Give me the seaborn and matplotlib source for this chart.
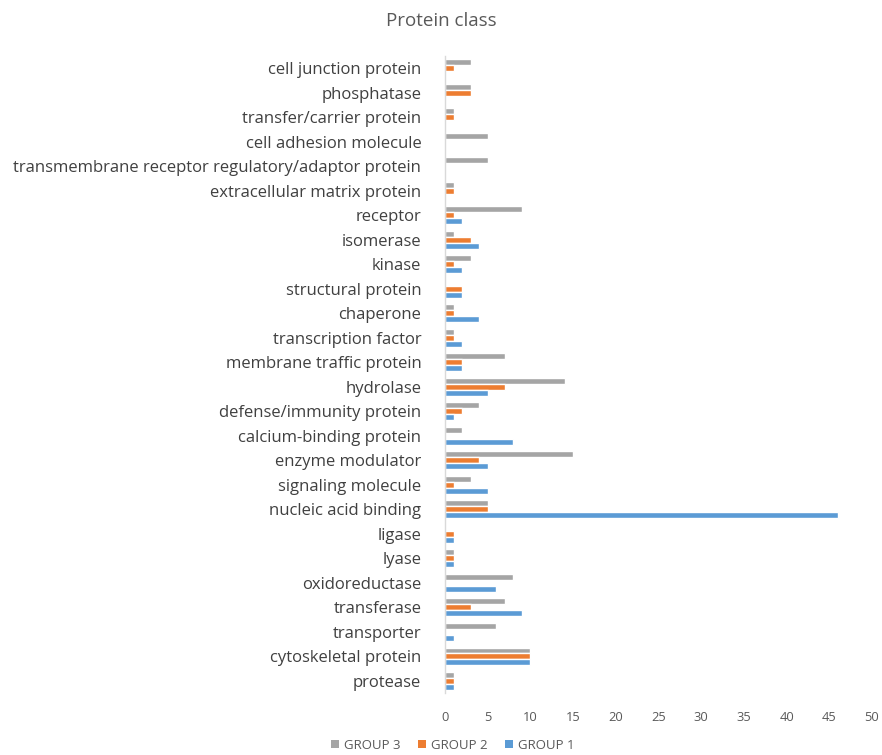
import matplotlib
matplotlib.use("Agg")
import matplotlib.pyplot as plt
import seaborn as sns
import pandas as pd
from matplotlib.patches import Patch

categories = [
    "cell junction protein", "phosphatase", "transfer/carrier protein",
    "cell adhesion molecule", "transmembrane receptor regulatory/adaptor protein",
    "extracellular matrix protein", "receptor", "isomerase", "kinase",
    "structural protein", "chaperone", "transcription factor",
    "membrane traffic protein", "hydrolase", "defense/immunity protein",
    "calcium-binding protein", "enzyme modulator", "signaling molecule",
    "nucleic acid binding", "ligase", "lyase", "oxidoreductase",
    "transferase", "transporter", "cytoskeletal protein", "protease",
]
group3 = [3, 3, 1, 5, 5, 1, 9, 1, 3, 0, 1, 1, 7, 14, 4, 2, 15, 3, 5, 0, 1, 8, 7, 6, 10, 1]
group2 = [1, 3, 1, 0, 0, 1, 1, 3, 1, 2, 1, 1, 2, 7, 2, 0, 4, 1, 5, 1, 1, 0, 3, 0, 10, 1]
group1 = [0, 0, 0, 0, 0, 0, 2, 4, 2, 2, 4, 2, 2, 5, 1, 8, 5, 5, 46, 1, 1, 6, 9, 1, 10, 1]
series_names = ["GROUP 3", "GROUP 2", "GROUP 1"]
colors = {"GROUP 3": "#A5A5A5", "GROUP 2": "#ED7D31", "GROUP 1": "#5B9BD5"}
x_ticks = list(range(0, 51, 5))

rows = []
for name, vals in zip(series_names, [group3, group2, group1]):
    for c, v in zip(categories, vals):
        rows.append({"category": c, "group": name, "value": v})
df = pd.DataFrame(rows)

sns.set_style("white")
plt.rcParams["font.family"] = ["Open Sans", "DejaVu Sans"]

fig = plt.figure(figsize=(8.82, 7.55), dpi=100)
ax = fig.add_axes([0.5045, 0.082, 0.4842, 0.844])

sns.barplot(data=df, x="value", y="category", hue="group", order=categories,
            hue_order=series_names, palette=colors, orient="h", width=0.72,
            ax=ax, legend=False, saturation=1)

ax.set_xlim(0, 50)
ax.set_xticks(x_ticks)
ax.set_xlabel("")
ax.set_ylabel("")
txt = "#404040"
ax.tick_params(axis="x", colors="#595959", labelsize=9.3, length=0, pad=13)
ax.tick_params(axis="y", colors=txt, labelsize=12, length=0, pad=17)
for s in ["top", "right", "bottom"]:
    ax.spines[s].set_visible(False)
ax.spines["left"].set_color("#D9D9D9")
ax.spines["left"].set_linewidth(1)
ax.grid(False)

fig.text(0.5, 0.972, "Protein class", ha="center", va="center", fontsize=13.5, color="#595959")

handles = [Patch(facecolor=colors[n], edgecolor="none", label=n) for n in series_names]
fig.legend(handles=handles, loc="center", bbox_to_anchor=(0.513, 0.013), ncol=3,
           frameon=False, fontsize=9.5, handlelength=0.65, handleheight=0.65,
           handletextpad=0.35, columnspacing=1.3, labelcolor="#595959")

fig.savefig("out.png", dpi=100)
